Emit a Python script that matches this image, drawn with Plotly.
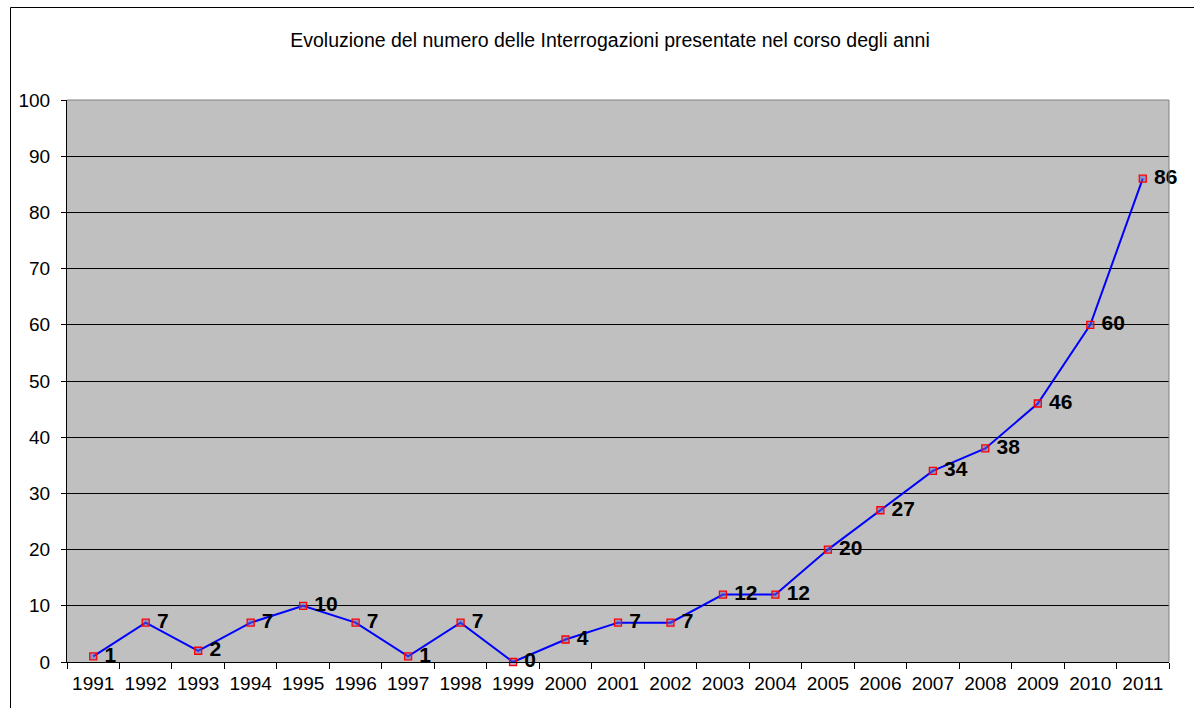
import plotly.graph_objects as go

years = ["1991","1992","1993","1994","1995","1996","1997","1998","1999","2000","2001",
         "2002","2003","2004","2005","2006","2007","2008","2009","2010","2011"]
values = [1, 7, 2, 7, 10, 7, 1, 7, 0, 4, 7, 7, 12, 12, 20, 27, 34, 38, 46, 60, 86]
title_text = "Evoluzione del numero delle Interrogazioni presentate nel corso degli anni"

fig = go.Figure(go.Scatter(
    x=years, y=values, mode="lines+markers+text",
    text=[" " + str(v) for v in values], textposition="middle right",
    textfont=dict(family="Liberation Sans, Arial", size=21, color="black", weight="bold"),
    line=dict(color="#0000FF", width=2),
    marker=dict(symbol="square", size=7, color="rgba(96,96,200,0.5)",
                line=dict(color="#FF0000", width=1.3)),
    cliponaxis=False,
))

L, R, T, B = 67, 25, 100, 46
W, H = 1194, 708
pw, ph = W - L - R, H - T - B

fig.update_layout(
    width=W, height=H,
    margin=dict(l=L, r=R, t=T, b=B),
    paper_bgcolor="white", plot_bgcolor="#C0C0C0",
    font=dict(family="Liberation Sans, Arial", size=19, color="black"),
    showlegend=False,
    title=dict(text=title_text, x=610/W, xref="container", y=1 - 40/H, yref="container",
               xanchor="center", yanchor="middle", font=dict(size=19.5)),
    xaxis=dict(type="category", tickson="boundaries", ticks="outside", ticklen=6, tickcolor="black",
               showline=True, linecolor="black", linewidth=1, showgrid=False,
               tickfont=dict(size=19), range=[-0.5, 20.5], ticklabelstandoff=4),
    yaxis=dict(range=[0, 100], dtick=10, ticks="outside", ticklen=5, tickcolor="black",
               showline=True, linecolor="black", linewidth=1,
               showgrid=True, gridcolor="black", gridwidth=1, zeroline=False,
               tickfont=dict(size=19), ticklabelstandoff=7),
    shapes=[
        dict(type="line", xref="paper", yref="paper", x0=1, x1=1, y0=0, y1=1,
             line=dict(color="#808080", width=1)),
        dict(type="line", xref="paper", yref="paper", x0=0, x1=1, y0=1, y1=1,
             line=dict(color="#808080", width=1)),
        dict(type="line", xref="paper", yref="paper",
             x0=(10.5 - L)/pw, x1=(10.5 - L)/pw, y0=-0.2, y1=(H - B - 7.5)/ph,
             line=dict(color="black", width=1)),
        dict(type="line", xref="paper", yref="paper",
             x0=(10.5 - L)/pw, x1=1.1, y0=(H - B - 7.5)/ph, y1=(H - B - 7.5)/ph,
             line=dict(color="black", width=1)),
    ],
)

fig.write_html("out.html", config={"displayModeBar": False},
               post_script="document.body.style.margin='0';document.body.style.overflow='hidden';")
